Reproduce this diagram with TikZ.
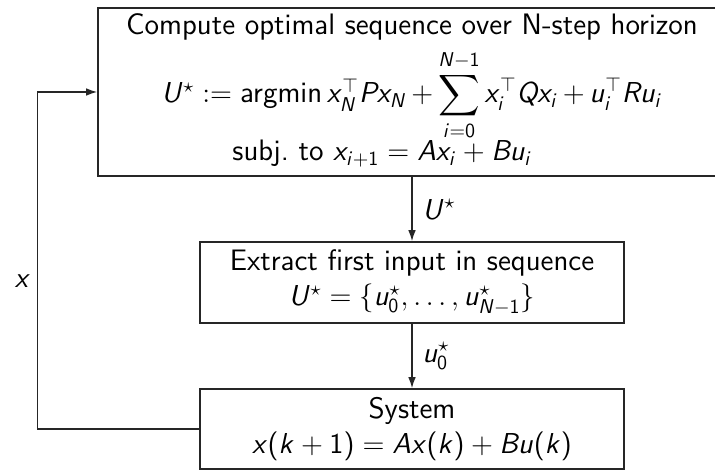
\documentclass[tikz,border=0pt]{standalone}
\usepackage{amsmath}
\usetikzlibrary{arrows.meta}
\DeclareSymbolFont{sfletters}{OT1}{cmss}{m}{sl}
\DeclareSymbolFont{sfdigits}{OT1}{cmss}{m}{n}
\makeatletter
\def\sfml#1{\DeclareMathSymbol{#1}{\mathalpha}{sfletters}{`#1}}
\def\sfmd#1{\DeclareMathSymbol{#1}{\mathalpha}{sfdigits}{`#1}}
\@tfor\tmpl:=abcdefghijklmnopqrstuvwxyzABCDEFGHIJKLMNOPQRSTUVWXYZ\do{\expandafter\sfml\tmpl}
\@tfor\tmpl:=0123456789\do{\expandafter\sfmd\tmpl}
\makeatother
\DeclareMathSymbol{(}{\mathopen}{sfdigits}{"28}
\DeclareMathSymbol{)}{\mathclose}{sfdigits}{"29}
\begin{document}
\begin{tikzpicture}[x=0.5pt,y=-0.5pt,
  every node/.style={font=\sffamily\fontsize{14.8}{17.5}\selectfont, text=black},
  blk/.style={draw=black!85, line width=0.8pt, fill=none, inner sep=0pt},
  arr/.style={draw=black!85, line width=0.7pt, -{Latex[length=5.5pt,width=3.8pt]}},
  lbl/.style={inner sep=2pt}]
\useasboundingbox (0,0) rectangle (715,470);
\node[blk, minimum width=314pt, minimum height=84pt] (comp) at (412,92) {};
\node[anchor=base] (t1) at (412,35) {Compute optimal sequence over N-step horizon};
\node[anchor=base, inner sep=0pt] (t2) at (412,103) {\medmuskip=3mu $U^\star := \text{argmin}\, x_N^\top P x_N + \displaystyle\sum_{i=0}^{N-1} x_i^\top Q x_i + u_i^\top R u_i$};
\node[anchor=base west, inner sep=0pt] (t3) at (232,161) {subj.\ to $x_{i+1} = A x_i + B u_i$};
\node[blk, minimum width=212pt, minimum height=40.5pt, align=center] (ext) at (412,282.5)
  {Extract first input in sequence\\ $U^\star = \{u_0^\star, \ldots, u_{N-1}^\star\}$};
\node[blk, minimum width=212pt, minimum height=40pt, align=center] (sys) at (412,429)
  {System\\ $x(k+1) = Ax(k) + Bu(k)$};
\draw[arr] (comp.south) -- node[right, lbl, xshift=3pt] {$U^\star$} (ext.north);
\draw[arr] (ext.south) -- node[right, lbl, xshift=3pt] {$u_0^\star$} (sys.north);
\draw[arr] (sys.west) -- ++(-162,0) |- node[pos=0.22, left, lbl, xshift=-1pt] {$x$} (comp.west);
\end{tikzpicture}
\end{document}
